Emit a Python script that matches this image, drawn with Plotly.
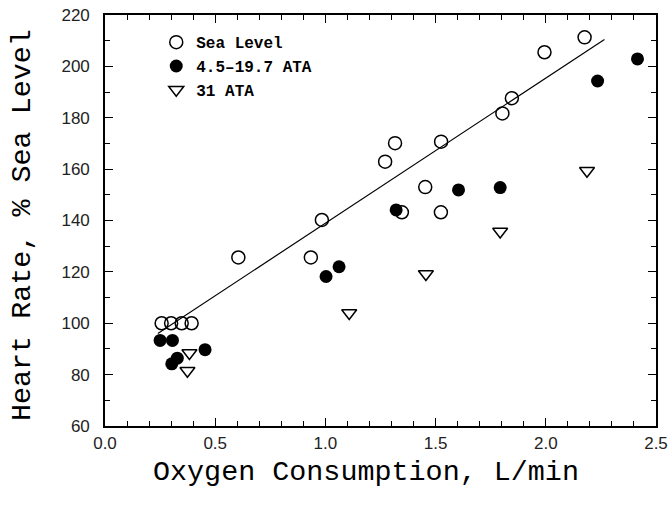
import plotly.graph_objects as go

# Sea Level (open circles)
sea_x = [0.257, 0.300, 0.348, 0.393, 0.605, 0.934, 0.984, 1.271, 1.316, 1.347,
         1.453, 1.524, 1.525, 1.803, 1.846, 1.994, 2.176]
sea_y = [100, 100, 100, 100, 125.6, 125.6, 140.2, 162.9, 170.1, 143.2,
         153.0, 143.2, 170.7, 181.7, 187.6, 205.5, 211.3]

# 4.5-19.7 ATA (filled circles)
mid_x = [0.250, 0.306, 0.328, 0.303, 0.454, 1.003, 1.062, 1.321, 1.604, 1.793, 2.235, 2.416]
mid_y = [93.3, 93.3, 86.4, 84.2, 89.7, 118.2, 122.0, 144.1, 151.9, 152.8, 194.3, 202.9]

# 31 ATA (open down-triangles)
deep_x = [0.383, 0.374, 1.108, 1.456, 1.793, 2.187]
deep_y = [88.4, 81.5, 104.0, 119.2, 135.7, 159.4]

# regression line endpoints
fit_x = [0.24, 2.266]
fit_y = [96.0, 210.5]

x_ticks = [0, 0.5, 1.0, 1.5, 2.0, 2.5]
x_ticktext = ["0.0", "0.5", "1.0", "1.5", "2.0", "2.5"]
y_ticks = [60, 80, 100, 120, 140, 160, 180, 200, 220]
x_title = "Oxygen Consumption, L/min"
y_title = "Heart Rate, % Sea Level"

fig = go.Figure()
fig.add_trace(go.Scatter(x=fit_x, y=fit_y, mode="lines",
                         line=dict(color="black", width=1.2), showlegend=False))
fig.add_trace(go.Scatter(x=sea_x, y=sea_y, mode="markers", name="Sea Level",
                         marker=dict(symbol="circle-open", size=13, color="black",
                                     line=dict(width=1.5, color="black"))))
fig.add_trace(go.Scatter(x=mid_x, y=mid_y, mode="markers", name="4.5\u201319.7 ATA",
                         marker=dict(symbol="circle", size=13, color="black")))
fig.add_trace(go.Scatter(x=deep_x, y=deep_y, mode="markers", name="31 ATA",
                         marker=dict(symbol="triangle-down-open", size=13, color="black",
                                     line=dict(width=1.5, color="black"))))

tickfont = dict(family="Liberation Sans, Arial", size=17, color="#222")
titlefont = dict(family="Liberation Mono, Courier New", size=28.4, color="black")

fig.update_layout(
    width=672, height=507,
    margin=dict(l=105, r=16, t=15, b=81),
    paper_bgcolor="white", plot_bgcolor="white",
    legend=dict(x=0.093, y=0.975, xanchor="left", yanchor="top",
                font=dict(family="Liberation Mono, Courier New", size=16, color="black",
                          weight="bold"),
                bgcolor="rgba(0,0,0,0)", itemwidth=30, tracegroupgap=0),
    xaxis=dict(range=[0, 2.5], tickvals=x_ticks, ticktext=x_ticktext,
               ticks="inside", ticklen=8, tickwidth=1.2, tickcolor="black",
               minor=dict(dtick=0.1, ticks="inside", ticklen=5, tickwidth=1.2,
                          tickcolor="black"),
               showline=True, linecolor="black", linewidth=1.6, mirror="allticks",
               automargin=False,
               showgrid=False, zeroline=False, tickfont=tickfont, ticklabelstandoff=1),
    yaxis=dict(range=[60, 220], tickvals=y_ticks,
               ticks="inside", ticklen=8, tickwidth=1.2, tickcolor="black",
               minor=dict(dtick=10, ticks="inside", ticklen=5, tickwidth=1.2,
                          tickcolor="black"),
               showline=True, linecolor="black", linewidth=1.6, mirror="allticks",
               automargin=False,
               showgrid=False, zeroline=False, tickfont=tickfont, ticklabelstandoff=10),
    annotations=[
        dict(text=x_title, xref="paper", yref="paper", x=0.4737, y=-0.112,
             xanchor="center", yanchor="middle", showarrow=False, font=titlefont),
        dict(text=y_title, xref="paper", yref="paper", x=-0.1506, y=0.489,
             xanchor="center", yanchor="middle", showarrow=False, textangle=-90,
             font=titlefont),
    ],
)

fig.write_html("out.html")
